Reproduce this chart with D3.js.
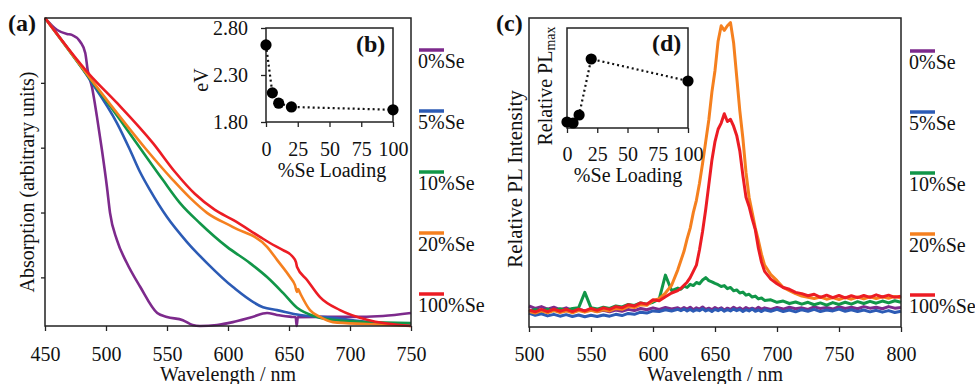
<!DOCTYPE html>
<html>
<head>
<meta charset="utf-8">
<script src="https://cdn.jsdelivr.net/npm/d3@7"></script>
<style>
  body { margin: 0; background: #fff; }
  text { font-family: "Liberation Serif", "Times New Roman", serif; fill: #111; }
</style>
</head>
<body>
<div id="chart"></div>
<script>
// ---- data ----
const seriesNames = ["0%Se", "5%Se", "10%Se", "20%Se", "100%Se"];
const seriesColors = ["#7d2a8c", "#2c5bb5", "#119648", "#f5801f", "#ec1c24"];

// (a) absorption, [wavelength nm, arbitrary units]
const abs0Se = [[450,1.0],[460,0.963],[468,0.951],[472,0.948],[479,0.926],[483,0.892],[485,0.839],[488.5,0.787],[492.6,0.695],[496.7,0.592],[500.8,0.478],[503.3,0.399],[509,0.315],[517,0.245],[528,0.171],[542,0.09],[550,0.078],[563,0.068],[571,0.053],[577,0.05],[591,0.053],[604,0.062],[620,0.078],[632,0.09],[640,0.084],[653,0.078],[655.5,0.077],[656.3,0.05],[657.2,0.077],[673,0.078],[700,0.078],[727,0.081],[750,0.09]];
const abs5Se = [[450,1.0],[486.9,0.809],[509,0.676],[519.7,0.593],[527.9,0.525],[536.1,0.469],[550,0.386],[566.4,0.309],[582.8,0.244],[604.1,0.17],[628.7,0.108],[640.2,0.099],[659,0.084],[686.1,0.075],[714,0.062],[750,0.053]];
const abs10Se = [[450,1.0],[486.9,0.812],[511.5,0.686],[527.9,0.599],[546.7,0.5],[560.7,0.429],[577,0.367],[599.2,0.294],[618,0.244],[632,0.201],[645.1,0.152],[656.6,0.106],[673,0.078],[686.2,0.069],[714,0.062],[750,0.059]];
const abs20Se = [[450,1.0],[489.3,0.803],[511.5,0.695],[532,0.599],[554.9,0.5],[568.9,0.445],[582.8,0.399],[604.1,0.355],[632,0.294],[640.2,0.254],[650.8,0.201],[654.9,0.176],[656.6,0.155],[657.4,0.164],[659,0.152],[667.2,0.099],[675.4,0.078],[686,0.062],[714,0.056],[750,0.05]];
const abs100Se = [[450,1.0],[486.9,0.824],[509,0.738],[538.5,0.614],[556.6,0.525],[573,0.457],[589.3,0.408],[604.1,0.377],[626.2,0.325],[634.4,0.306],[645.1,0.284],[652.5,0.266],[655.7,0.247],[656.6,0.232],[664.8,0.192],[675.4,0.139],[691.8,0.099],[714,0.069],[750,0.05]];
const absTicksX = [450, 500, 550, 600, 650, 700, 750];
const absTicksY = [0.2, 0.4, 0.6, 0.8];

// (b) band gap vs loading
const loading = [0, 5, 10, 20, 100];
const bandGap = [2.62, 2.11, 2.0, 1.96, 1.93];
const eVTicks = [1.8, 2.3, 2.8];
const loadingTicks = [0, 25, 50, 75, 100];

// (c) photoluminescence, shared wavelength grid
const plWavelength = [500,505,510,515,520,525,530,535,540,545,550,555,560,565,570,575,580,585,590,595,600,605,610,615,620,
  622.5,625,627.5,630,632.5,635,637.5,640,642.5,645,647.5,650,652.5,655,657.5,660,662.5,665,667.5,670,672.5,675,677.5,680,682.5,685,687.5,690,
  695,700,705,710,715,720,725,730,735,740,745,750,755,760,765,770,775,780,785,790,795,800];
const pl0Se = [0.068,0.060,0.066,0.058,0.064,0.056,0.062,0.054,0.058,0.052,0.056,0.050,0.054,0.049,0.055,0.051,0.057,0.053,0.060,0.056,0.062,0.057,0.063,0.058,0.062,
  0.057,0.063,0.058,0.064,0.056,0.062,0.058,0.065,0.057,0.061,0.056,0.063,0.058,0.062,0.055,0.061,0.057,0.064,0.058,0.062,0.056,0.063,0.058,0.061,0.057,0.064,0.058,0.062,
  0.057,0.063,0.058,0.064,0.059,0.062,0.057,0.065,0.060,0.063,0.058,0.066,0.060,0.064,0.059,0.066,0.061,0.064,0.059,0.066,0.061,0.063];
const pl5Se = [0.045,0.038,0.043,0.036,0.041,0.035,0.040,0.034,0.039,0.033,0.038,0.034,0.039,0.035,0.041,0.037,0.044,0.041,0.048,0.045,0.052,0.050,0.056,0.052,0.057,
  0.053,0.058,0.052,0.057,0.051,0.056,0.053,0.059,0.052,0.056,0.050,0.057,0.053,0.058,0.051,0.056,0.052,0.058,0.053,0.057,0.050,0.056,0.052,0.058,0.051,0.055,0.050,0.056,
  0.051,0.057,0.050,0.055,0.049,0.056,0.051,0.057,0.050,0.055,0.052,0.058,0.051,0.056,0.050,0.055,0.049,0.054,0.048,0.053,0.047,0.051];
const pl10Se = [0.050,0.057,0.051,0.058,0.052,0.059,0.054,0.060,0.062,0.112,0.062,0.058,0.064,0.060,0.068,0.065,0.073,0.070,0.078,0.074,0.080,0.090,0.168,0.118,0.126,
  0.122,0.132,0.128,0.138,0.134,0.144,0.140,0.152,0.160,0.150,0.146,0.141,0.137,0.131,0.134,0.124,0.128,0.117,0.120,0.110,0.113,0.103,0.106,0.097,0.100,0.091,0.094,0.086,
  0.088,0.080,0.084,0.076,0.081,0.074,0.080,0.072,0.078,0.071,0.079,0.073,0.080,0.074,0.082,0.076,0.083,0.077,0.084,0.078,0.085,0.080];
const pl20Se = [0.050,0.045,0.052,0.046,0.053,0.047,0.052,0.046,0.053,0.048,0.054,0.049,0.056,0.052,0.060,0.057,0.066,0.063,0.072,0.070,0.085,0.092,0.110,0.135,0.185,
  0.215,0.245,0.285,0.320,0.370,0.410,0.465,0.530,0.600,0.670,0.760,0.830,0.925,0.975,0.960,0.975,0.985,0.920,0.810,0.700,0.610,0.500,0.420,0.370,0.320,0.280,0.235,0.200,
  0.170,0.150,0.128,0.118,0.108,0.100,0.096,0.092,0.097,0.090,0.095,0.089,0.096,0.090,0.097,0.091,0.098,0.092,0.098,0.093,0.099,0.094];
const pl100Se = [0.055,0.049,0.057,0.050,0.058,0.051,0.057,0.050,0.058,0.052,0.060,0.054,0.062,0.057,0.066,0.062,0.072,0.068,0.078,0.074,0.088,0.085,0.098,0.110,0.118,
  0.125,0.135,0.145,0.160,0.180,0.200,0.250,0.310,0.380,0.460,0.540,0.600,0.640,0.660,0.690,0.665,0.672,0.650,0.620,0.570,0.490,0.420,0.390,0.350,0.315,0.255,0.210,0.180,
  0.155,0.140,0.128,0.122,0.112,0.108,0.101,0.106,0.096,0.103,0.095,0.102,0.094,0.101,0.095,0.102,0.096,0.104,0.097,0.103,0.096,0.100];
const plTicksX = [500, 550, 600, 650, 700, 750, 800];

// (d) relative PL max vs loading
const relPLmax = [0.06, 0.05, 0.13, 0.69, 0.47];

const absSeries = [abs0Se, abs5Se, abs10Se, abs20Se, abs100Se];
const plSeries = [pl0Se, pl5Se, pl10Se, pl20Se, pl100Se];

// ---- drawing ----
const serif = "Liberation Serif, Times New Roman, serif";
const svg = d3.select("#chart")
  .append("svg")
  .attr("width", 975)
  .attr("height", 384);

function frame(x0, y0, x1, y1) {
  svg.append("rect")
    .attr("x", x0).attr("y", y0)
    .attr("width", x1 - x0).attr("height", y1 - y0)
    .attr("fill", "none")
    .attr("stroke", "#222")
    .attr("stroke-width", 1.5);
}

function styleAxis(g) {
  g.attr("font-family", serif).attr("font-size", 20).attr("color", "#222");
  g.select(".domain").remove();
  g.selectAll(".tick line").attr("stroke-width", 1.3);
  g.selectAll(".tick text").attr("fill", "#111");
}

function label(x, y, txt, size, opts) {
  opts = opts || {};
  const t = svg.append("text")
    .attr("x", x).attr("y", y)
    .attr("font-size", size)
    .attr("text-anchor", opts.anchor || "middle")
    .attr("font-weight", opts.bold ? "bold" : null)
    .text(txt);
  if (opts.rotate) t.attr("transform", "rotate(-90," + x + "," + y + ")");
  return t;
}

// panel (a)
const xA = d3.scaleLinear().domain([450, 750]).range([45, 411]);
const yA = d3.scaleLinear().domain([0.05, 1.0]).range([326, 18]);

svg.append("g")
  .attr("transform", "translate(0,326)")
  .call(d3.axisBottom(xA).tickValues(absTicksX).tickSize(5))
  .call(styleAxis)
  .call(g => g.selectAll(".tick text").attr("dy", 0).attr("y", 35));
svg.append("g")
  .attr("transform", "translate(45,0)")
  .call(d3.axisLeft(yA).tickValues(absTicksY).tickSize(4).tickFormat(""))
  .call(styleAxis);

const absLine = d3.line()
  .x(d => xA(d[0]))
  .y(d => yA(d[1]))
  .curve(d3.curveMonotoneX);

absSeries.forEach((s, i) => {
  svg.append("path")
    .datum(s)
    .attr("fill", "none")
    .attr("stroke", seriesColors[i])
    .attr("stroke-width", 2.6)
    .attr("stroke-linejoin", "round")
    .attr("d", absLine);
});
frame(45, 18, 411, 326);

label(228, 381, "Wavelength / nm", 20);
label(34, 182, "Absorption (arbitrary units)", 20, { rotate: true });
label(8, 31, "(a)", 24, { anchor: "start", bold: true });

// inset (b)
const xB = d3.scaleLinear().domain([0, 100]).range([266, 393]);
const yB = d3.scaleLinear().domain([1.8, 2.8]).range([122, 28]);

svg.append("g")
  .attr("transform", "translate(0,122)")
  .call(d3.axisBottom(xB).tickValues(loadingTicks).tickSize(5))
  .call(styleAxis)
  .call(g => g.selectAll(".tick text").attr("dy", 0).attr("y", 34));
svg.append("g")
  .attr("transform", "translate(266,0)")
  .call(d3.axisLeft(yB).tickValues(eVTicks).tickSize(5).tickPadding(13).tickFormat(d3.format(".2f")))
  .call(styleAxis);
frame(266, 28, 393, 122);

svg.append("path")
  .datum(loading)
  .attr("fill", "none")
  .attr("stroke", "#111")
  .attr("stroke-width", 2.2)
  .attr("stroke-dasharray", "2,3")
  .attr("d", d3.line().x(d => xB(d)).y((d, i) => yB(bandGap[i])));
svg.append("g").selectAll("circle")
  .data(loading)
  .enter()
  .append("circle")
  .attr("cx", d => xB(d))
  .attr("cy", (d, i) => yB(bandGap[i]))
  .attr("r", 5.6)
  .attr("fill", "#000");

label(332, 177, "%Se Loading", 20);
label(208, 80, "eV", 20, { rotate: true });
label(356, 52, "(b)", 24, { anchor: "start", bold: true });

// legend (a)
const legA = d3.scaleLinear().domain([0, 4]).range([50, 294]);
seriesNames.forEach((n, i) => {
  svg.append("line")
    .attr("x1", 419).attr("x2", 444)
    .attr("y1", legA(i)).attr("y2", legA(i))
    .attr("stroke", seriesColors[i])
    .attr("stroke-width", 3.5);
  label(418, legA(i) + 18, n, 20, { anchor: "start" });
});

// panel (c)
const xC = d3.scaleLinear().domain([500, 800]).range([529, 901]);
const yC = d3.scaleLinear().domain([0, 1]).range([327, 18]);

svg.append("g")
  .attr("transform", "translate(0,327)")
  .call(d3.axisBottom(xC).tickValues(plTicksX).tickSize(5))
  .call(styleAxis)
  .call(g => g.selectAll(".tick text").attr("dy", 0).attr("y", 34));

const plLine = d3.line()
  .x((d, i) => xC(plWavelength[i]))
  .y(d => yC(d));

plSeries.forEach((s, i) => {
  svg.append("path")
    .datum(s)
    .attr("fill", "none")
    .attr("stroke", seriesColors[i])
    .attr("stroke-width", 3)
    .attr("stroke-linejoin", "round")
    .attr("d", plLine);
});
frame(529, 18, 901, 327);

label(715, 381, "Wavelength / nm", 20);
label(522, 179, "Relative PL Intensity", 21, { rotate: true });
label(496, 31, "(c)", 24, { anchor: "start", bold: true });

// inset (d)
const xD = d3.scaleLinear().domain([0, 100]).range([567, 688]);
const yD = d3.scaleLinear().domain([0, 1]).range([128, 28]);

svg.append("g")
  .attr("transform", "translate(0,128)")
  .call(d3.axisBottom(xD).tickValues(loadingTicks).tickSize(5))
  .call(styleAxis)
  .call(g => g.selectAll(".tick text").attr("dy", 0).attr("y", 33));
frame(567, 28, 688, 128);

svg.append("path")
  .datum(loading)
  .attr("fill", "none")
  .attr("stroke", "#111")
  .attr("stroke-width", 2.2)
  .attr("stroke-dasharray", "2,3")
  .attr("d", d3.line().x(d => xD(d)).y((d, i) => yD(relPLmax[i])));
svg.append("g").selectAll("circle")
  .data(loading)
  .enter()
  .append("circle")
  .attr("cx", d => xD(d))
  .attr("cy", (d, i) => yD(relPLmax[i]))
  .attr("r", 5.6)
  .attr("fill", "#000");

label(628, 182, "%Se Loading", 20);
const relLab = label(552, 86, "Relative PL", 20, { rotate: true });
relLab.append("tspan").attr("font-size", 14).attr("dy", 3).text("max");
label(652, 51, "(d)", 24, { anchor: "start", bold: true });

// legend (c)
const legC = d3.scaleLinear().domain([0, 4]).range([51, 295]);
seriesNames.forEach((n, i) => {
  svg.append("line")
    .attr("x1", 910).attr("x2", 935)
    .attr("y1", legC(i)).attr("y2", legC(i))
    .attr("stroke", seriesColors[i])
    .attr("stroke-width", 3.5);
  label(909, legC(i) + 18, n, 20, { anchor: "start" });
});
</script>
</body>
</html>
